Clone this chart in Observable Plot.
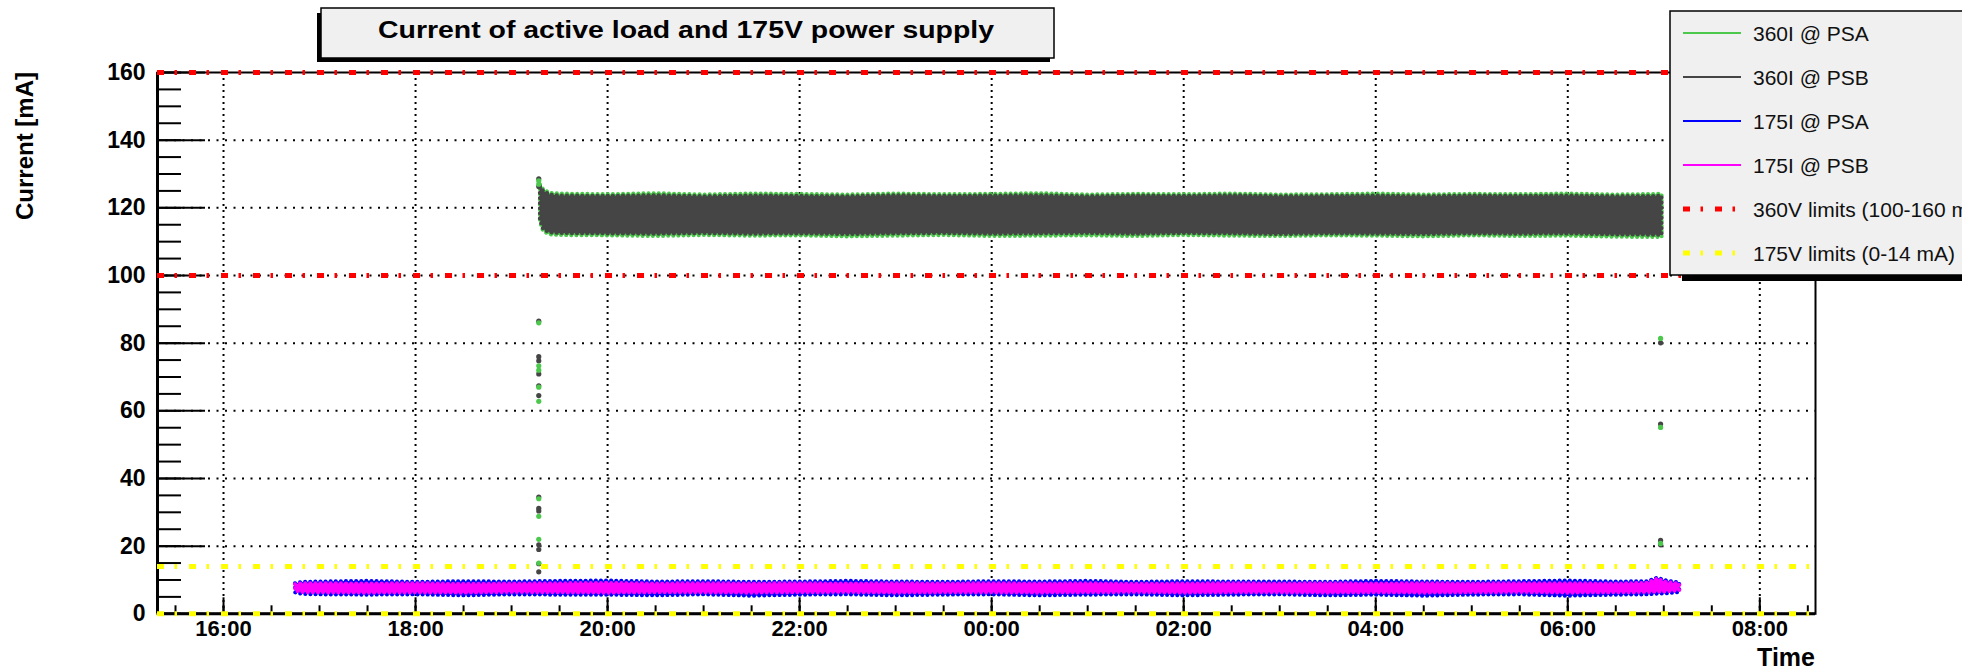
<!DOCTYPE html>
<html><head><meta charset="utf-8">
<script src="https://cdn.jsdelivr.net/npm/d3@7"></script>
<script src="https://cdn.jsdelivr.net/npm/@observablehq/plot@0.6"></script>
<style>
html,body{margin:0;padding:0;background:#fff;overflow:hidden}
#chart{position:relative;width:1962px;height:671px}
</style>
</head><body><div id="chart"></div>
<script>
// ---------------- data ----------------
const xStart = "15:18:45", xEnd = "08:34:48";       // axis limits
const xMajorTicks = ["16:00","18:00","20:00","22:00","00:00","02:00","04:00","06:00","08:00"];
const yMajorTicks = [0,20,40,60,80,100,120,140,160];

const t360  = ["19:18","19:20","19:24","19:30","20:00","20:30","21:00","21:30","22:00","22:30","23:00","23:30","00:00","00:30","01:00","01:30","02:00","02:30","03:00","03:30","04:00","04:30","05:00","05:30","06:00","06:30","06:59"];
const psaHi360 = [126.8,125.4,124.3,124.1,123.9,124.2,123.8,124.1,124.0,123.8,124.1,123.9,124.0,124.2,123.8,124.0,123.9,124.1,123.8,123.9,124.1,123.8,124.0,123.9,124.1,123.8,124.0];
const psaLo360 = [115.8,113.0,112.0,111.8,111.7,111.5,111.8,111.6,111.7,111.4,111.6,111.8,111.5,111.6,111.7,111.5,111.8,111.6,111.5,111.7,111.6,111.4,111.7,111.5,111.6,111.3,111.2];
const psbHi360 = [126.3,124.9,123.8,123.5,123.4,123.6,123.3,123.5,123.4,123.3,123.6,123.4,123.5,123.6,123.3,123.5,123.4,123.6,123.3,123.4,123.5,123.3,123.5,123.4,123.5,123.3,123.4];
const psbLo360 = [116.5,113.6,112.6,112.4,112.3,112.2,112.4,112.2,112.3,112.1,112.3,112.4,112.2,112.3,112.4,112.2,112.4,112.3,112.1,112.3,112.2,112.1,112.3,112.2,112.3,112.0,111.9];

const t175 = ["16:45","16:50","17:00","17:30","18:00","18:30","19:00","19:30","20:00","20:30","21:00","21:30","22:00","22:30","23:00","23:30","00:00","00:30","01:00","01:30","02:00","02:30","03:00","03:30","04:00","04:30","05:00","05:30","06:00","06:30","06:50","06:56","07:02","07:10"];
const psaHi175 = [8.9,9.3,9.4,9.6,9.3,9.5,9.4,9.6,9.7,9.4,9.5,9.3,9.4,9.6,9.4,9.3,9.5,9.4,9.6,9.3,9.5,9.4,9.4,9.3,9.6,9.4,9.3,9.5,9.7,9.4,9.5,10.5,9.7,9.1];
const psaLo175 = [6.2,5.7,5.6,5.5,5.6,5.3,5.6,5.5,5.5,5.3,5.6,5.2,5.5,5.6,5.3,5.5,5.6,5.3,5.5,5.6,5.3,5.5,5.6,5.3,5.5,5.2,5.5,5.6,5.2,5.5,5.6,5.8,5.9,6.3];
const psbHi175 = [8.6,8.9,8.9,8.8,8.9,8.7,8.8,8.9,9.0,8.8,8.9,8.8,8.9,8.8,8.9,8.8,8.9,8.8,8.9,8.7,8.8,8.9,8.8,8.9,8.8,8.9,8.8,8.9,8.9,8.8,9.0,10.2,9.2,8.8];
const psbLo175 = [6.7,6.3,6.2,6.1,6.2,6.1,6.3,6.2,6.1,6.2,6.2,6.1,6.2,6.3,6.1,6.2,6.2,6.1,6.2,6.3,6.1,6.2,6.2,6.1,6.2,6.1,6.2,6.3,6.1,6.2,6.3,6.4,6.5,6.8];

// isolated readings (transitions)
const outATimes  = ["19:17","19:17","19:17","19:17","19:17","19:17","19:17","19:17","19:17","19:17","19:17","06:58","06:58","06:58"];
const outAValues = [128.0,127.0,86.0,73.3,72.0,67.0,62.8,34.0,28.8,22.0,15.0,81.4,55.1,20.8];
const outBTimes  = ["19:17","19:17","19:17","19:17","19:17","19:17","19:17","19:17","19:17","19:17","19:17","19:17","19:17","19:17","19:17","06:58","06:58","06:58","06:58"];
const outBValues = [128.6,126.3,86.5,76.0,74.8,70.9,67.4,64.5,34.5,31.2,30.4,20.4,19.0,14.8,12.4,80.1,56.1,21.7,20.4];

const limits360 = [100,160];
const limits175 = [0,14];

const legendLabels = ["360I @ PSA","360I @ PSB","175I @ PSA","175I @ PSB","360V limits (100-160 mA)","175V limits (0-14 mA)"];
const titleText = "Current of active load and 175V power supply";
const xLabel = "Time", yLabel = "Current [mA]";

// ---------------- styles ----------------
const FONT = "'Liberation Sans', Arial, Helvetica, sans-serif";
const GREEN = "#4cc84c", GRAY = "#454545", BLUE = "#0000ff", MAGENTA = "#ff00ff", RED = "#ff0000", YELLOW = "#ffff00";
const DASHDOT = "7 10.5 2.5 12";
const DOTS = "0.1 5";

const day0 = Date.UTC(2011,0,1);
function at(s){ const [h,m,sec=0] = s.split(":").map(Number); return new Date(day0 + ((h<12?24:0)+h)*3600e3 + m*60e3 + sec*1e3); }

const band360 = t360.map((t,i)=>({t:at(t), aHi:psaHi360[i], aLo:psaLo360[i], bHi:psbHi360[i], bLo:psbLo360[i]}));
const band175 = t175.map((t,i)=>({t:at(t), aHi:psaHi175[i], aLo:psaLo175[i], bHi:psbHi175[i], bLo:psbLo175[i]}));
const outA = outATimes.map((t,i)=>({t:at(t), v:outAValues[i]}));
const outB = outBTimes.map((t,i)=>({t:at(t), v:outBValues[i]}));

const xMajor = xMajorTicks.map(at);
const xMinor = d3.utcMinute.every(30).range(at(xStart), at(xEnd));
const yMinor = d3.range(0,161,5);
const yGrid = yMajorTicks.filter(v=>v>0 && v<160);

const W=1962, H=671, mL=157, mR=147, mT=72, mB=57.7;
const fw = W-mL-mR, fh = H-mT-mB;
const fmt = d3.utcFormat("%H:%M");

function band(data, lo, hi, color) {
  return Plot.areaY(data, {x: "t", y1: lo, y2: hi, fill: color, stroke: color, strokeWidth: 4,
    strokeDasharray: DOTS, strokeLinecap: "round", strokeLinejoin: "round"});
}

const chart = Plot.plot({
  width: W, height: H, marginLeft: mL, marginRight: mR, marginTop: mT, marginBottom: mB,
  style: {fontFamily: FONT, background: "white", overflow: "visible"},
  x: {type: "utc", domain: [at(xStart), at(xEnd)], axis: null},
  y: {domain: [0,160], axis: null},
  marks: [
    // grid
    Plot.ruleY(yGrid, {y: d=>d, stroke: "black", strokeWidth: 2, strokeDasharray: "2 6.5"}),
    Plot.ruleX(xMajor, {x: d=>d, stroke: "black", strokeWidth: 2, strokeDasharray: "2 4"}),
    // 360 V series
    band(band360, "aLo", "aHi", GREEN),
    band(band360, "bLo", "bHi", GRAY),
    Plot.dot(outB, {x: "t", y: "v", r: 2.6, fill: GRAY}),
    Plot.dot(outA, {x: "t", y: "v", r: 2.6, fill: GREEN}),
    // 175 V series
    band(band175, "aLo", "aHi", BLUE),
    band(band175, "bLo", "bHi", MAGENTA),
    // frame and axes
    Plot.frame({stroke: "black", strokeWidth: 2}),
    Plot.ruleY([0], {stroke: "black", strokeWidth: 3}),
    Plot.ruleX([at(xStart)], {stroke: "black", strokeWidth: 3}),
    Plot.ruleX(xMinor, {x: d=>d, stroke: "black", strokeWidth: 2, insetTop: fh-8}),
    Plot.ruleX(xMajor, {x: d=>d, stroke: "black", strokeWidth: 2, insetTop: fh-16}),
    Plot.ruleY(yMinor, {y: d=>d, stroke: "black", strokeWidth: 2, insetRight: fw-24}),
    Plot.ruleY(yMajorTicks, {y: d=>d, stroke: "black", strokeWidth: 2, insetRight: fw-48}),
    // limits
    Plot.ruleY(limits360, {y: d=>d, stroke: RED, strokeWidth: 5, strokeDasharray: DASHDOT}),
    Plot.ruleY(limits175, {y: d=>d, stroke: YELLOW, strokeWidth: 5, strokeDasharray: DASHDOT}),
    // tick labels
    Plot.text(xMajor, {x: d=>d, frameAnchor: "bottom", lineAnchor: "top", dy: 7, text: d=>fmt(d), fontSize: 22, fontWeight: "bold", fill: "black"}),
    Plot.text(yMajorTicks, {y: d=>d, frameAnchor: "left", textAnchor: "end", dx: -12, text: d=>String(d), fontSize: 23, fontWeight: "bold", fill: "black"})
  ]
});
document.getElementById("chart").appendChild(chart);

// ---------------- titles, title box, legend ----------------
const svg = d3.select(chart);
svg.append("text").attr("x", mL+fw).attr("y", 666).attr("text-anchor","end")
  .attr("font-family", FONT).attr("font-size", 25).attr("font-weight","bold").attr("fill","black").text(xLabel);
svg.append("text").attr("transform","translate(33,72) rotate(-90)").attr("text-anchor","end")
  .attr("font-family", FONT).attr("font-size", 24).attr("font-weight","bold").attr("fill","black").text(yLabel);

// title box
const tb = svg.append("g").attr("text-anchor","start");
tb.append("rect").attr("x",317).attr("y",13).attr("width",733).attr("height",49).attr("fill","black");
tb.append("rect").attr("x",321).attr("y",8).attr("width",733).attr("height",50).attr("fill","#f0f0f0").attr("stroke","black").attr("stroke-width",1.5);
tb.append("text").attr("x",378).attr("y",37.5).attr("text-anchor","start").attr("font-family",FONT).attr("font-size",24).attr("font-weight","bold")
  .attr("fill","black").attr("textLength",616).attr("lengthAdjust","spacingAndGlyphs").text(titleText);

// legend
const lg = svg.append("g").attr("text-anchor","start");
lg.append("rect").attr("x",1682).attr("y",17).attr("width",320).attr("height",264).attr("fill","black");
lg.append("rect").attr("x",1670).attr("y",11).attr("width",320).attr("height",264).attr("fill","#f0f0f0").attr("stroke","black").attr("stroke-width",1.5);
const legStyles = [
  {stroke: GREEN, w: 2, dash: null},
  {stroke: GRAY, w: 2, dash: null},
  {stroke: BLUE, w: 2, dash: null},
  {stroke: MAGENTA, w: 2, dash: null},
  {stroke: RED, w: 5, dash: DASHDOT},
  {stroke: YELLOW, w: 5, dash: DASHDOT}
];
const legY = [33,77,121,165,209,253];
legendLabels.forEach((lab,i)=>{
  const s = legStyles[i];
  const ln = lg.append("line").attr("x1",1683).attr("x2",1741).attr("y1",legY[i]).attr("y2",legY[i])
    .attr("stroke",s.stroke).attr("stroke-width",s.w);
  if (s.dash) ln.attr("stroke-dasharray", s.dash);
  lg.append("text").attr("x",1753).attr("y",legY[i]).attr("dy","0.36em").attr("text-anchor","start").attr("font-family",FONT)
    .attr("font-size",21).attr("fill","#111").text(lab);
});
</script>
</body></html>
